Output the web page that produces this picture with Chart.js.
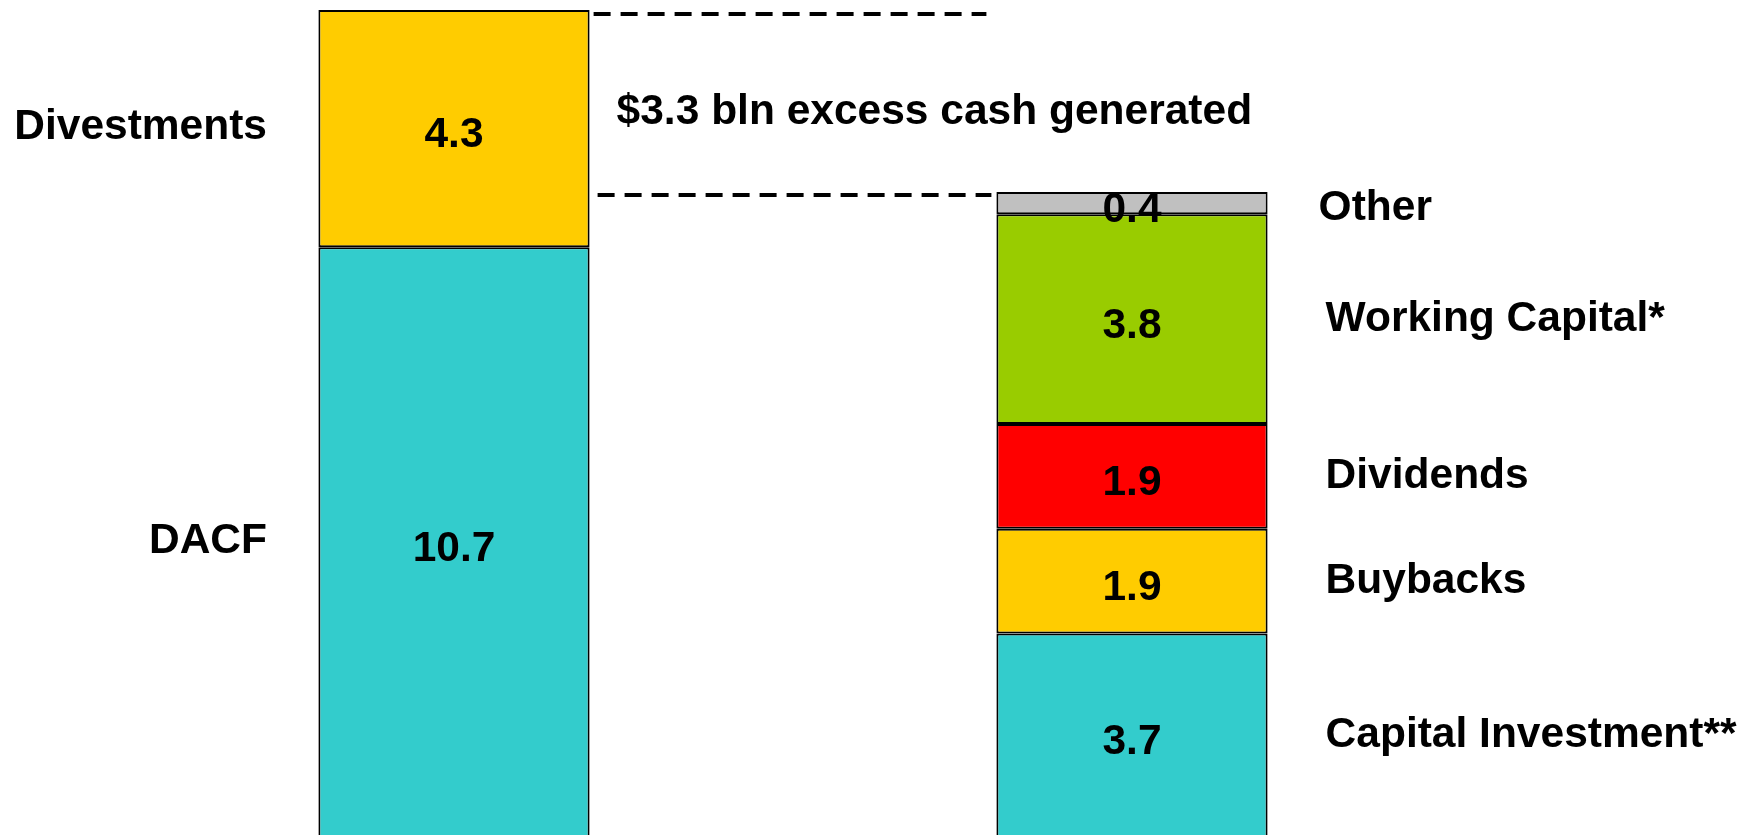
<!DOCTYPE html>
<html>
<head>
<meta charset="utf-8">
<script src="https://cdn.jsdelivr.net/npm/chart.js@4.4.1/dist/chart.umd.min.js"></script>
<style>
  html, body { margin: 0; padding: 0; background: #ffffff; }
  #wrap { width: 1753px; height: 835px; }
</style>
</head>
<body>
<div id="wrap"><canvas id="cashChart" width="1753" height="835"></canvas></div>
<script>
// sources of cash (left bar), bottom to top
const categories = ['Sources', 'Uses'];
const sourceNames = ['DACF', 'Divestments'];
const sourceValues = [10.7, 4.3];
const sourceColors = ['#33CCCC', '#FFCC00'];

// uses of cash (right bar), bottom to top
const useNames = ['Capital Investment**', 'Buybacks', 'Dividends', 'Working Capital*', 'Other'];
const useValues = [3.7, 1.9, 1.9, 3.8, 0.4];
const useColors = ['#33CCCC', '#FFCC00', '#FF0000', '#99CC00', '#C0C0C0'];

const excessCash = 3.3;
const noteText = '$' + excessCash + ' bln excess cash generated';

const FONT = 'bold 42.5px "Liberation Sans", Arial, sans-serif';

const datasets = [];
sourceNames.forEach(function (name, i) {
    datasets.push({ label: name, data: [sourceValues[i], null], backgroundColor: sourceColors[i], side: 'left' });
});
useNames.forEach(function (name, i) {
    datasets.push({ label: name, data: [null, useValues[i]], backgroundColor: useColors[i], side: 'right' });
});
datasets.forEach(function (ds) {
    ds.borderColor = '#000000';
    ds.borderWidth = 2;
    ds.borderSkipped = false;
    ds.categoryPercentage = 1;
    ds.barPercentage = 0.4;
});

const labelsPlugin = {
    id: 'labelsPlugin',
    afterDatasetsDraw(chart) {
        const ctx = chart.ctx;
        const y = chart.scales.y;
        ctx.save();
        ctx.font = FONT;
        ctx.fillStyle = '#000000';
        ctx.textBaseline = 'middle';

        let leftBar = null, rightBar = null;
        chart.data.datasets.forEach(function (ds, i) {
            const idx = ds.side === 'left' ? 0 : 1;
            const bar = chart.getDatasetMeta(i).data[idx];
            if (ds.side === 'left') leftBar = bar; else rightBar = bar;
            const mid = (bar.y + bar.base) / 2;
            const thin = Math.abs(bar.base - bar.y) < 40;
            // value inside the segment
            ctx.textAlign = 'center';
            ctx.fillText(ds.data[idx].toFixed(1), bar.x, mid + 7);
            // name beside the bar
            if (ds.side === 'left') {
                ctx.textAlign = 'right';
                ctx.fillText(ds.label, 267, mid - 1);
            } else {
                ctx.textAlign = 'left';
                ctx.fillText(ds.label, bar.x + bar.width / 2 + (thin ? 51 : 58), mid + (thin ? 5 : 0));
            }
        });

        // dashed lines marking the excess cash
        const totalSources = sourceValues.reduce((a, b) => a + b, 0);
        const totalUses = useValues.reduce((a, b) => a + b, 0);
        const lx = leftBar.x + leftBar.width / 2;
        const rx = rightBar.x - rightBar.width / 2;
        ctx.strokeStyle = '#000000';
        ctx.lineWidth = 4;
        ctx.setLineDash([17, 10]);
        ctx.beginPath();
        ctx.moveTo(lx + 4, y.getPixelForValue(totalSources) + 4);
        ctx.lineTo(rx - 10, y.getPixelForValue(totalSources) + 4);
        ctx.moveTo(lx + 8, y.getPixelForValue(totalUses) + 3);
        ctx.lineTo(rx - 5, y.getPixelForValue(totalUses) + 3);
        ctx.stroke();
        ctx.setLineDash([]);

        ctx.textAlign = 'left';
        ctx.fillText(noteText, lx + 27, y.getPixelForValue((totalSources + totalUses) / 2) + 11);
        ctx.restore();
    }
};

new Chart(document.getElementById('cashChart').getContext('2d'), {
    type: 'bar',
    data: { labels: categories, datasets: datasets },
    options: {
        responsive: false,
        animation: false,
        layout: { padding: { left: 115, right: 282, top: 10, bottom: 0 } },
        plugins: { legend: { display: false }, tooltip: { enabled: false } },
        scales: {
            x: { stacked: true, display: false },
            y: { stacked: true, display: false, min: 0.05, max: 15 }
        }
    },
    plugins: [labelsPlugin]
});
</script>
</body>
</html>
